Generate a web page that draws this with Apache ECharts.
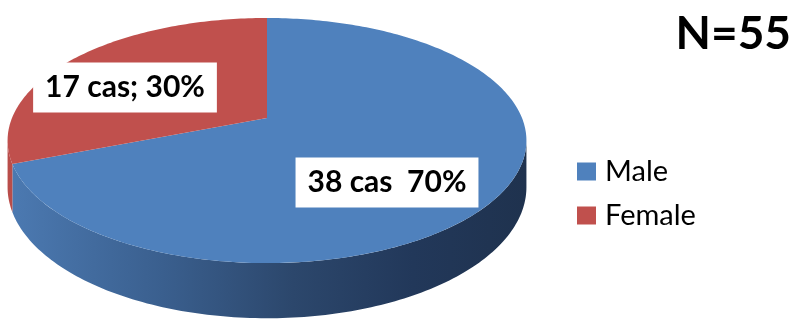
<!DOCTYPE html>
<html>
<head>
<meta charset="utf-8">
<script src="https://cdn.jsdelivr.net/npm/echarts@6/dist/echarts.min.js"></script>
<style>
html,body{margin:0;padding:0;background:#fff;}
#chart{width:793px;height:320px;}
</style>
</head>
<body>
<div id="chart"></div>
<script>
// ---- data ----
const categories = ['Male', 'Female'];
const counts = [38, 17];
const percents = [70, 30];
const labelSeparators = ['  ', '; '];
const totalText = 'N=55';

// ---- layout (3D pie projection) ----
const CX = 267, CY = 118, A = 255, B = 118.4, P = 0.184, H = 45;
const topColors = ['#4f81bd', '#c0504d'];
const sideStops = [
  [{offset: 0, color: '#4c7ab2'}, {offset: 0.3, color: '#3a5f8e'}, {offset: 0.55, color: '#2c476c'}, {offset: 0.78, color: '#22385a'}, {offset: 1, color: '#1f324e'}],
  [{offset: 0, color: '#b94d4a'}, {offset: 1, color: '#8a3431'}]
];
const labelCenters = [[387, 182.5], [125, 87.5]];

const total = counts.reduce((s, v) => s + v, 0);
const SIL = Math.asin(P) * 180 / Math.PI;

function proj(t) {
  const phi = (90 - t) * Math.PI / 180;
  const X = Math.cos(phi), Z = Math.sin(phi);
  const d = 1 + P * Z;
  return {x: CX + A * X / d, y: CY - B * Z / d, h: H / d};
}
function arcPts(t0, t1, bottom) {
  const pts = [];
  const n = Math.max(2, Math.ceil(Math.abs(t1 - t0)));
  for (let i = 0; i <= n; i++) {
    const t = t0 + (t1 - t0) * i / n;
    const p = proj(t);
    pts.push([p.x, bottom ? p.y + p.h : p.y]);
  }
  return pts;
}

function makeRender(idx) {
  return function (params, api) {
    const v = api.value(0);
    let before = 0;
    for (let i = 0; i < idx; i++) before += counts[i];
    const t0 = before / total * 360;
    const t1 = (before + v) / total * 360;
    const children = [];
    // side (visible front part)
    const s0 = Math.max(t0, 90 + SIL), s1 = Math.min(t1, 270 - SIL);
    if (s1 > s0) {
      const pts = arcPts(s0, s1, false).concat(arcPts(s1, s0, true));
      children.push({
        type: 'polygon', z2: 1,
        shape: {points: pts},
        style: {fill: {type: 'linear', x: 7, y: 0, x2: 527, y2: 0, global: true, colorStops: sideStops[idx]}}
      });
    }
    // top face
    const topPts = [[CX, CY]].concat(arcPts(t0, t1, false));
    children.push({
      type: 'polygon', z2: 10,
      shape: {points: topPts},
      style: {fill: topColors[idx]}
    });
    // data label
    children.push({
      type: 'text', z2: 20,
      x: labelCenters[idx][0], y: labelCenters[idx][1],
      style: {
        text: counts[idx] + ' cas' + labelSeparators[idx] + percents[idx] + '%',
        font: 'bold 30px Lato',
        fill: '#000',
        align: 'center', verticalAlign: 'middle',
        backgroundColor: '#fff',
        padding: [10, 12, 10, 12]
      }
    });
    return {type: 'group', children: children};
  };
}

const chart = echarts.init(document.getElementById('chart'), null, {renderer: 'canvas'});
chart.setOption({
  animation: false,
  backgroundColor: '#fff',
  title: {
    text: totalText, right: 2, top: 11, padding: 0,
    textStyle: {fontFamily: 'Lato', fontWeight: 'bold', fontSize: 46, color: '#000'}
  },
  legend: {
    data: categories,
    orient: 'vertical', left: 577, top: 157, padding: 0,
    icon: 'rect', itemWidth: 19, itemHeight: 18, itemGap: 15,
    textStyle: {fontFamily: 'Lato', fontSize: 29, color: '#000', lineHeight: 26, padding: [0, 0, 0, 4]}
  },
  series: categories.map((name, i) => ({
    type: 'custom', name: name, coordinateSystem: 'none',
    itemStyle: {color: topColors[i]},
    data: [[counts[i]]],
    renderItem: makeRender(i)
  }))
});
</script>
</body>
</html>
